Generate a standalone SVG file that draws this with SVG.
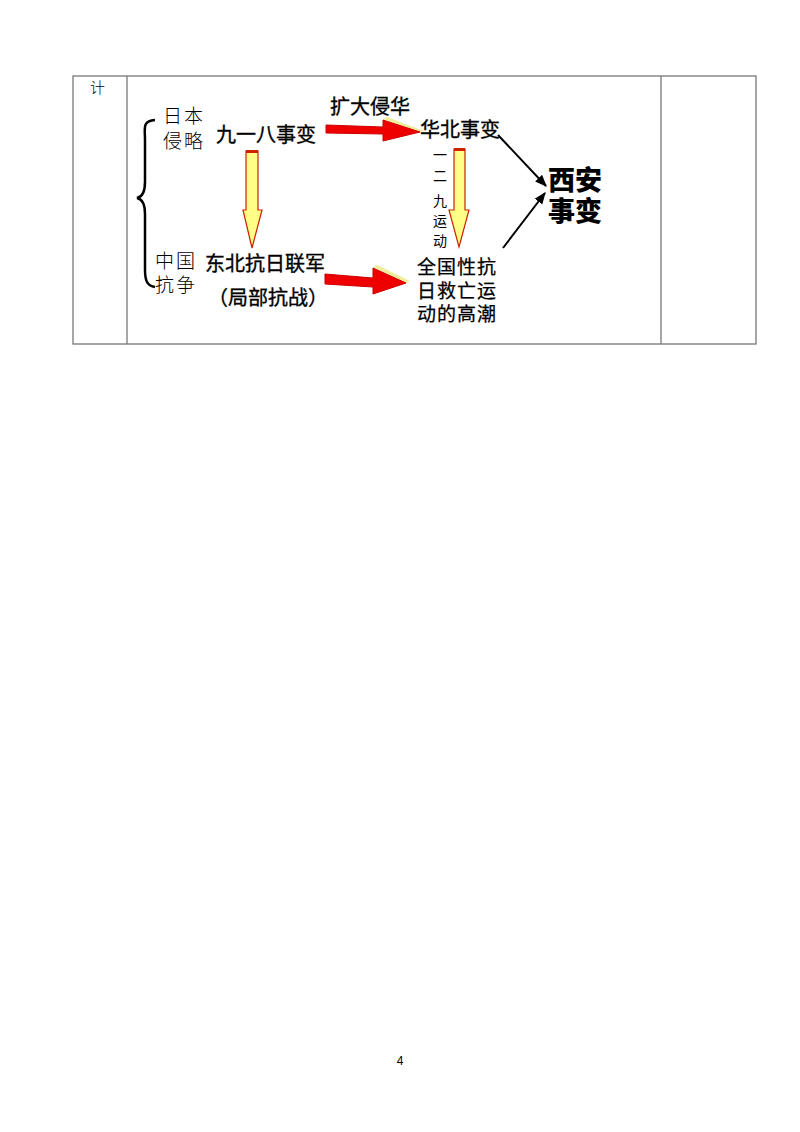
<svg xmlns="http://www.w3.org/2000/svg" width="800" height="1132" viewBox="0 0 800 1132">
<defs>
<style>
text{font-family:"Noto Sans CJK SC","Noto Sans",sans-serif;fill:#000}
.lbl{font-size:20px;font-weight:400;stroke:#000;stroke-width:0.35}
.ml{font-size:19px;font-weight:400;stroke:#000;stroke-width:0.25}
.lt{font-size:19px;font-weight:300}
.big{font-size:27px;font-weight:900}
.vt{font-size:14px}
.grid{fill:none;stroke:#777;stroke-width:1.3}
.red{fill:#ee0000;stroke:#cc0000;stroke-width:1}
.yel{fill:#ffff88;stroke:#cc2200;stroke-width:1.2}
.edge{fill:#eeee99;stroke:none}
.blk{stroke:#000;stroke-width:2;fill:none;marker-end:url(#ah)}
</style>
<marker id="ah" viewBox="0 0 10 10" refX="9" refY="5" markerWidth="6" markerHeight="6" orient="auto"><path d="M0,1 L10,5 L0,9 Z" fill="#000"/></marker>
</defs>
<g id="table">
<rect class="grid" x="73" y="76" width="683" height="268"/>
<line class="grid" x1="127" y1="76" x2="127" y2="344"/>
<line class="grid" x1="661" y1="76" x2="661" y2="344"/>
</g>
<g id="row-label"><text x="90" y="93" style="font-size:15px;font-weight:300">计</text></g>
<g id="brace"><path d="M155,120 C142,121 145,128 145,140 L145,182 C145,193 142,197 137,198 C142,199 145,203 145,214 L145,270 C145,282 148,286 155,287" fill="none" stroke="#000" stroke-width="2.5"/></g>
<g id="japan"><text class="lt" x="163" y="123" letter-spacing="2">日本</text><text class="lt" x="163" y="148" letter-spacing="2">侵略</text></g>
<g id="china"><text class="lt" x="155" y="268" letter-spacing="2">中国</text><text class="lt" x="155" y="292" letter-spacing="2">抗争</text></g>
<g id="n918"><text class="lbl" x="216" y="142">九一八事变</text></g>
<g id="nhuabei"><text class="lbl" x="420" y="137">华北事变</text></g>
<g id="nxian"><text class="big" x="548" y="190">西安</text><text class="big" x="548" y="221">事变</text></g>
<g id="ndongbei"><text class="lbl" x="205" y="271">东北抗日联军</text><text class="lbl" x="208" y="305">（局部抗战）</text></g>
<g id="nquanguo"><text class="ml" x="417" y="274" letter-spacing="1">全国性抗</text><text class="ml" x="417" y="298" letter-spacing="1">日救亡运</text><text class="ml" x="417" y="321" letter-spacing="1">动的高潮</text></g>
<g id="connectors">
<g id="e1">
<polygon class="edge" points="383,119 387,117 424,131 420,132"/>
<polygon class="red" points="326,125 383,127 383,120 420,132 383,141 383,134 326,133"/>
<text x="330" y="114" class="lbl">扩大侵华</text>
</g>
<g id="e2">
<polygon class="yel" points="246,151 258,151 258,210 262,210 252,248 243,210 246,210"/>
<rect x="246" y="150" width="12" height="3" fill="#cc2200"/>
</g>
<g id="e3">
<polygon class="yel" points="454,149 465,149 465,210 469,210 459,247 449,210 454,210"/>
<rect x="454" y="148" width="11" height="3" fill="#cc2200"/>
<text class="vt" x="433" y="160">一</text>
<text class="vt" x="433" y="181">二</text>
<text class="vt" x="433" y="206">九</text>
<text class="vt" x="433" y="226">运</text>
<text class="vt" x="433" y="246">动</text>
</g>
<g id="e4">
<polygon class="edge" points="373,267 377,265 410,281 406,283"/>
<polygon class="red" points="325,274 373,278 373,268 406,283 373,294 373,287 325,284"/>
</g>
<line class="blk" x1="498" y1="135" x2="546" y2="186"/>
<line class="blk" x1="503" y1="248" x2="545" y2="193"/>
</g>
<g id="page"><text x="400" y="1065" style="font-size:12px;font-family:'Liberation Sans',sans-serif" text-anchor="middle">4</text></g>
</svg>
